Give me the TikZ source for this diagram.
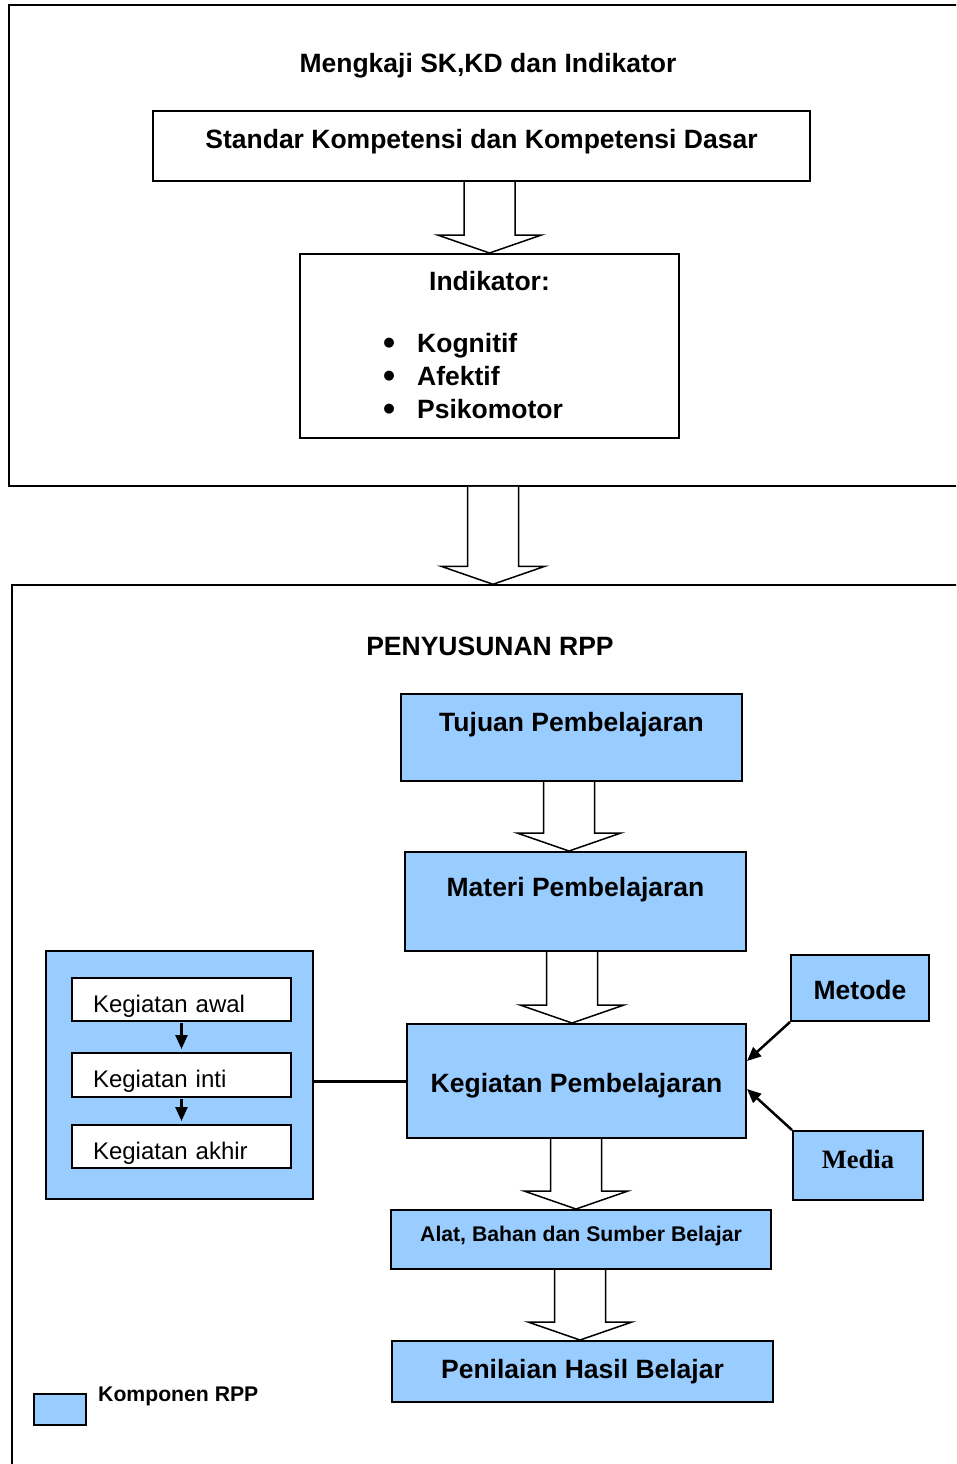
\documentclass[tikz,border=0pt]{standalone}
\usepackage{fontspec}
\setmainfont{Liberation Sans}
\newfontfamily\serifbf{Liberation Serif}
\usepackage{tikz}
\usetikzlibrary{calc,arrows.meta}
\definecolor{rppblue}{RGB}{153,204,255}

\newcommand{\hollowarrow}[3][0pt]{%
  \draw[hollow] let \p1=(#2.south), \p2=($(#3.north)+(#1,0pt)$) in
    ({\x2-25.5pt},\y1) -- ({\x2-25.5pt},{\y2+18pt}) -- ({\x2-52pt},{\y2+18pt})
    -- (\x2,\y2) -- ({\x2+52pt},{\y2+18pt}) -- ({\x2+25.5pt},{\y2+18pt})
    -- ({\x2+25.5pt},\y1);}

\begin{document}
\begin{tikzpicture}[x=1pt,y=-1pt]
  \tikzstyle{frame}=[draw, line width=1.5pt, inner sep=0pt]
  \tikzstyle{plain}=[draw, line width=2pt, fill=white, inner sep=0pt,
    font=\bfseries\fontsize{26.5}{30}\selectfont]
  \tikzstyle{comp}=[plain, fill=rppblue]
  \tikzstyle{sub}=[draw, line width=2pt, fill=white, inner ysep=0pt, inner xsep=21pt,
    text width=177pt, align=left, font=\fontsize{24}{28}\selectfont]
  \tikzstyle{hollow}=[draw, line width=1.5pt, fill=white]
  \tikzstyle{head}=[font=\bfseries\fontsize{26.5}{30}\selectfont, inner sep=0pt]
  \tikzstyle{pointer}=[line width=2.5pt, -{Triangle[width=12pt,length=14pt]}]
  \clip (0,0) rectangle (956,1464);
  \fill[white] (0,0) rectangle (956,1464);

  \node[frame, minimum width=991pt, minimum height=481pt] (F_1) at (504.5,245.5) {};
  \node[head, anchor=base] (T_1) at (488,72) {Mengkaji SK,KD dan Indikator};
  \node[plain, anchor=north, minimum width=657pt, text height=37pt, text depth=33pt]
    (SK) at (481.5,110) {Standar Kompetensi dan Kompetensi Dasar};
  \node[plain, anchor=north, minimum width=379pt, text height=36pt, text depth=148pt]
    (IND) at (489.5,253) {Indikator:};
  \node[head, anchor=base west] (I_1) at (383,352) {\makebox[34pt][l]{\raisebox{-2.5pt}{\scalebox{1.3}{\textbullet}}}Kognitif};
  \node[head, anchor=base west] (I_2) at (383,385) {\makebox[34pt][l]{\raisebox{-2.5pt}{\scalebox{1.3}{\textbullet}}}Afektif};
  \node[head, anchor=base west] (I_3) at (383,418) {\makebox[34pt][l]{\raisebox{-2.5pt}{\scalebox{1.3}{\textbullet}}}Psikomotor};

  \node[frame, minimum width=988pt, minimum height=915pt] (F_2) at (506,1042.5) {};
  \node[head, anchor=base] (T_2) at (490,655) {PENYUSUNAN RPP};
  \node[comp, anchor=north, minimum width=341pt, text height=37pt, text depth=50pt]
    (TUJ) at (571.5,693) {Tujuan Pembelajaran};
  \node[comp, anchor=north, minimum width=341pt, text height=44pt, text depth=55pt]
    (MAT) at (575.5,851) {Materi Pembelajaran};
  \node[comp, anchor=north, minimum width=339pt, text height=68pt, text depth=46pt]
    (KEG) at (576.5,1023) {Kegiatan Pembelajaran};
  \node[comp, anchor=north, minimum width=138pt, text height=44pt, text depth=22pt]
    (MET) at (860,954) {Metode};
  \node[comp, anchor=north, minimum width=130pt, text height=37pt, text depth=32pt,
    font={\serifbf\bfseries\fontsize{26.5}{30}\selectfont}]
    (MED) at (858,1130) {Media};
  \node[comp, anchor=north, minimum width=380pt, text height=31.5pt, text depth=27.5pt,
    font=\bfseries\fontsize{21.2}{24}\selectfont]
    (ALAT) at (581,1209) {Alat, Bahan dan Sumber Belajar};
  \node[comp, anchor=north, minimum width=381pt, text height=37pt, text depth=24pt]
    (PEN) at (582.5,1340) {Penilaian Hasil Belajar};

  \node[comp, anchor=north, minimum width=267pt, minimum height=248pt] (KB) at (179.5,950) {};
  \node[sub, anchor=north west, text height=34pt, text depth=9pt] (K_1) at (71,977) {Kegiatan awal};
  \node[sub, anchor=north west, text height=34pt, text depth=10pt] (K_2) at (71,1052) {Kegiatan inti};
  \node[sub, anchor=north west, text height=34pt, text depth=9pt] (K_3) at (71,1124) {Kegiatan akhir};
  \draw[pointer, shorten <=1pt, shorten >=3pt] (K_1) -- (K_2);
  \draw[pointer, shorten <=1pt, shorten >=3pt] (K_2) -- (K_3);
  \draw[line width=3pt] (KEG.west) -- (KEG.west -| KB.east);

  \draw[pointer] (MET.south west) -- ([yshift=20pt]KEG.east);
  \draw[pointer] (MED.north west) -- ([yshift=-8pt]KEG.east);

  \hollowarrow{SK}{IND}
  \hollowarrow[-13pt]{F_1}{F_2}
  \hollowarrow[-6.5pt]{TUJ}{MAT}
  \hollowarrow[-4.5pt]{MAT}{KEG}
  \hollowarrow[-5pt]{KEG}{ALAT}
  \hollowarrow[-2.5pt]{ALAT}{PEN}

  \node[draw, line width=2pt, fill=rppblue, minimum width=52pt, minimum height=31pt,
    inner sep=0pt] (LEG) at (60,1409.5) {};
  \node[font=\bfseries\fontsize{21.2}{24}\selectfont, anchor=base west, inner sep=0pt]
    (LEGT) at (98,1401) {Komponen RPP};
\end{tikzpicture}
\end{document}
